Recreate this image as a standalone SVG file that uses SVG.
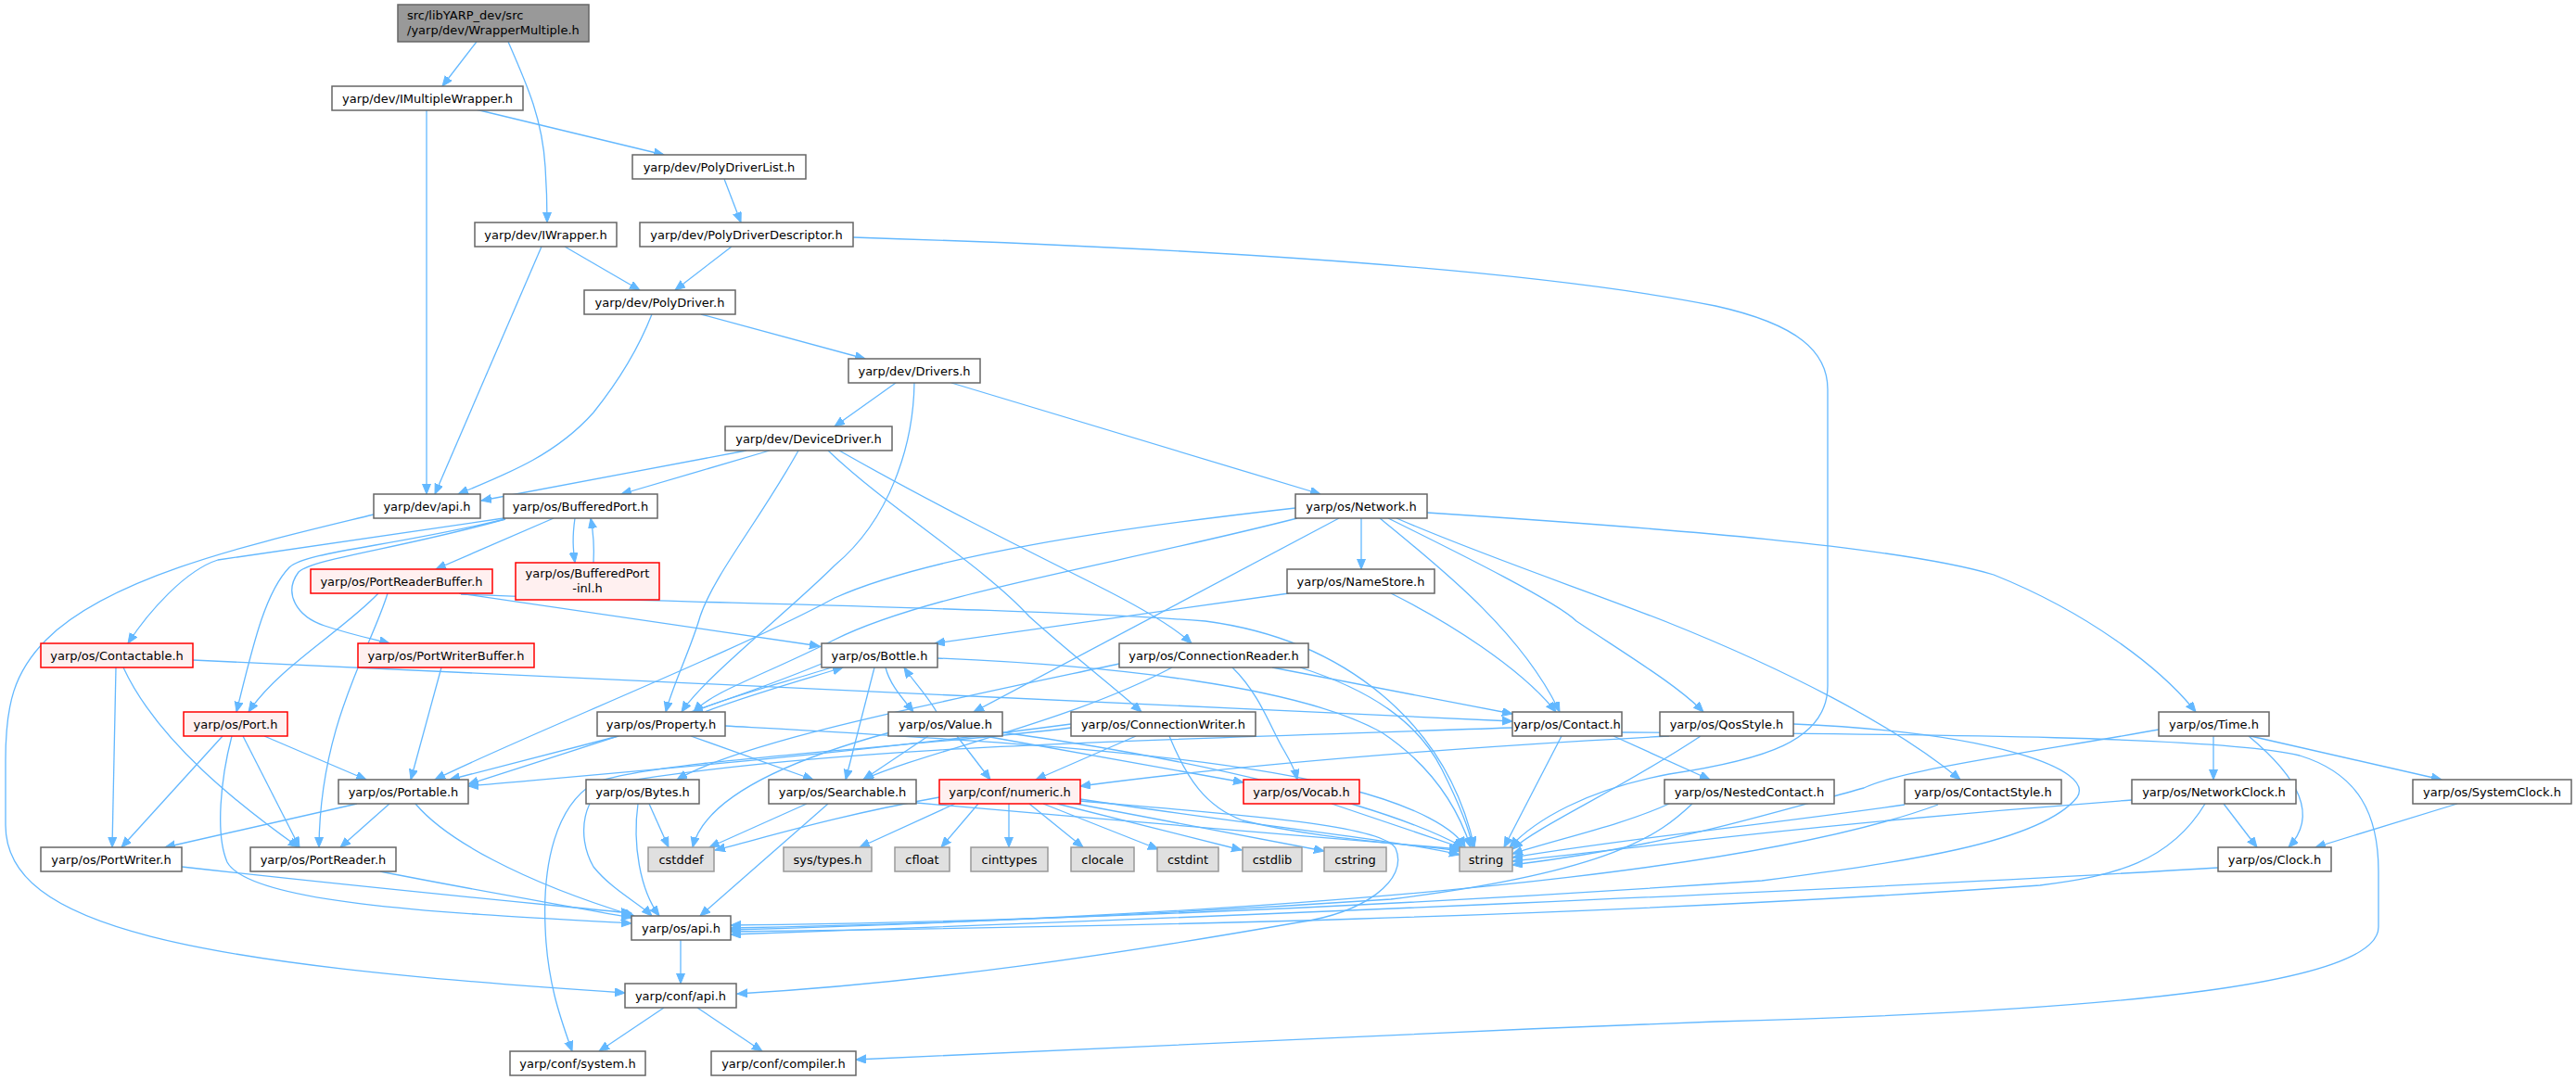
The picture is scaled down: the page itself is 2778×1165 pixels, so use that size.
<svg xmlns="http://www.w3.org/2000/svg" width="2778" height="1165" viewBox="0 0 2778 1165">
<style>
.n rect{fill:#fff;stroke:#666;stroke-width:1.5}
.root rect{fill:#999;stroke:#666;stroke-width:1.5}
.r rect{fill:#fff0f0;stroke:#f00;stroke-width:1.5}
.g rect{fill:#e0e0e0;stroke:#999;stroke-width:1.5}
text{font-family:"DejaVu Sans","Liberation Sans",sans-serif;font-size:13px;fill:#000;text-anchor:middle}
.root text{text-anchor:start}
#edges path{fill:none;stroke:#63b8ff;stroke-width:1.3;marker-end:url(#a)}
</style>
<defs>
<marker id="a" markerWidth="12" markerHeight="10" refX="11" refY="4.5" orient="auto" markerUnits="userSpaceOnUse"><path d="M0,0 L11,4.5 L0,9 z" fill="#63b8ff" stroke="#63b8ff" stroke-width="1"/></marker>
</defs>
<rect width="2778" height="1165" fill="#fff"/>
<g id="edges">
<path d="M514,45 L477,93"/>
<path d="M548,45 C570,95 585,130 588,180 C590,210 590,225 590,240"/>
<path d="M460,118 L460,533"/>
<path d="M513,118 L716,167"/>
<path d="M781,193 L799,240"/>
<path d="M609,266 L690,313"/>
<path d="M584,266 L469,533"/>
<path d="M789,266 L728,313"/>
<path d="M920,256 C1300,268 1650,290 1850,330 C1940,350 1971,380 1971,420 L1971,740 C1971,800 1900,820 1800,835 C1710,852 1655,885 1628,914"/>
<path d="M756,339 L933,387"/>
<path d="M703,339 C685,385 660,420 640,445 C600,490 550,510 494,533"/>
<path d="M966,413 L900,460"/>
<path d="M986,413 C985,480 960,560 900,610 C850,660 760,730 735,768"/>
<path d="M1026,413 L1424,533"/>
<path d="M805,486 L519,540"/>
<path d="M830,486 L670,533"/>
<path d="M861,486 C820,560 770,620 755,665 C745,700 725,740 718,768"/>
<path d="M893,486 C960,550 1060,610 1110,665 C1160,710 1200,740 1231,768"/>
<path d="M905,486 C1000,540 1100,590 1180,630 C1230,655 1265,675 1285,694"/>
<path d="M403,555 C280,585 120,620 50,690 C15,725 6,760 6,820 L6,890 C6,1000 200,1040 674,1071"/>
<path d="M597,559 L470,614"/>
<path d="M620,559 C617,580 618,592 620,607"/>
<path d="M640,607 C641,590 640,575 637,559"/>
<path d="M543,559 L235,604 C200,615 160,660 138,694"/>
<path d="M545,560 C420,590 330,595 312,612 C285,640 272,700 255,768"/>
<path d="M545,560 C430,592 340,602 322,617 C305,640 320,665 350,675 C380,685 405,690 420,694"/>
<path d="M408,640 C370,680 300,720 268,768"/>
<path d="M418,640 C400,700 345,780 344,914"/>
<path d="M495,640 L884,697"/>
<path d="M497,641 C700,650 1100,655 1300,670 C1450,690 1560,780 1590,914"/>
<path d="M476,720 L443,841"/>
<path d="M125,720 L121,914"/>
<path d="M133,720 C170,800 260,870 322,914"/>
<path d="M208,712 L1631,778"/>
<path d="M240,794 L131,914"/>
<path d="M262,794 L323,914"/>
<path d="M285,794 L395,841"/>
<path d="M250,794 C238,840 232,900 245,930 C270,975 480,985 681,996"/>
<path d="M385,867 L178,914"/>
<path d="M420,867 L367,914"/>
<path d="M448,867 C480,905 560,950 684,988"/>
<path d="M196,935 C400,958 550,972 681,985"/>
<path d="M410,940 C500,958 600,975 681,990"/>
<path d="M734,1014 L734,1061"/>
<path d="M716,1087 L646,1134"/>
<path d="M752,1087 L822,1134"/>
<path d="M667,794 L485,841"/>
<path d="M745,794 L877,841"/>
<path d="M760,768 C800,752 860,735 909,720"/>
<path d="M897,720 C850,735 790,750 747,768"/>
<path d="M782,783 C1000,795 1300,810 1450,850 C1530,870 1570,895 1580,914"/>
<path d="M955,720 C960,740 975,755 985,768"/>
<path d="M1010,768 C1000,750 985,735 975,720"/>
<path d="M943,720 L912,841"/>
<path d="M886,716 C780,760 600,815 505,846"/>
<path d="M1011,710 C1200,718 1400,740 1490,790 C1550,830 1575,880 1586,914"/>
<path d="M1001,794 L931,841"/>
<path d="M1032,794 L1068,841"/>
<path d="M1062,794 L1341,844"/>
<path d="M1081,790 C1300,820 1500,870 1578,914"/>
<path d="M960,790 C850,820 760,860 747,914"/>
<path d="M1372,720 L1631,770"/>
<path d="M1402,720 C1480,745 1530,780 1555,830 C1575,870 1585,895 1588,914"/>
<path d="M1329,720 C1360,750 1372,790 1385,810 C1392,822 1397,832 1399,841"/>
<path d="M1264,720 C1150,780 1000,810 931,841"/>
<path d="M1207,716 C1000,760 800,800 730,841"/>
<path d="M1225,794 L1117,841"/>
<path d="M1261,794 C1280,840 1300,870 1340,885 C1420,905 1520,910 1574,918"/>
<path d="M1155,781 C900,815 650,835 505,848"/>
<path d="M1155,785 C1000,805 700,820 640,845 C600,870 585,930 588,1000 C590,1060 605,1100 617,1134"/>
<path d="M1631,785 C1200,800 900,805 660,845 C630,855 620,900 640,935 C660,960 690,975 703,988"/>
<path d="M1740,794 L1844,841"/>
<path d="M1684,794 L1622,914"/>
<path d="M1749,790 C2100,792 2400,795 2480,815 C2545,835 2565,880 2565,940 L2565,1000 C2565,1060 2300,1090 1850,1102 C1500,1115 1100,1135 923,1143"/>
<path d="M1834,794 C1750,850 1660,890 1631,916"/>
<path d="M1800,794 C1500,810 1300,830 1165,848"/>
<path d="M1934,781 C2150,790 2260,830 2240,860 C2200,910 2050,930 1900,950 C1400,985 1000,996 788,998"/>
<path d="M1800,867 C1750,890 1680,905 1631,921"/>
<path d="M1825,867 C1790,900 1740,940 1500,970 C1200,990 950,998 788,1001"/>
<path d="M2054,868 C1900,890 1750,905 1631,925"/>
<path d="M2090,868 C1950,920 1600,980 788,1003"/>
<path d="M2299,863 C2000,885 1800,910 1631,929"/>
<path d="M2378,867 C2340,930 2280,945 2200,955 C1700,990 1200,1000 788,1005"/>
<path d="M2398,867 L2434,914"/>
<path d="M2392,936 C2000,960 1300,990 788,1008"/>
<path d="M2387,794 L2387,841"/>
<path d="M2427,794 L2633,841"/>
<path d="M2425,794 C2480,840 2500,880 2468,914"/>
<path d="M2650,867 L2497,914"/>
<path d="M2328,787 C2200,810 2050,830 2010,850 C1900,880 1800,912 1631,933"/>
<path d="M1397,548 C1200,570 1000,600 900,645 C800,700 550,800 469,841"/>
<path d="M1399,559 C1200,610 1000,640 900,690 C820,730 770,745 748,768"/>
<path d="M1444,559 L1050,768"/>
<path d="M1468,559 L1468,614"/>
<path d="M1488,559 C1550,610 1640,680 1682,768"/>
<path d="M1497,559 C1580,600 1680,650 1700,670 C1760,710 1810,740 1837,768"/>
<path d="M1506,559 C1600,600 1720,640 1800,672 C1920,720 2040,780 2114,841"/>
<path d="M1539,553 C1800,570 2050,590 2150,620 C2250,660 2330,720 2368,768"/>
<path d="M1390,640 L1008,694"/>
<path d="M1500,640 C1560,670 1640,720 1678,768"/>
<path d="M1013,860 C900,880 820,905 771,917"/>
<path d="M1030,867 L927,914"/>
<path d="M1055,867 L1015,914"/>
<path d="M1088,867 L1088,914"/>
<path d="M1110,867 L1168,914"/>
<path d="M1125,867 L1249,916"/>
<path d="M1140,867 L1339,917"/>
<path d="M1155,866 L1428,918"/>
<path d="M1165,862 C1350,890 1500,905 1574,922"/>
<path d="M1165,864 C1350,880 1490,890 1505,915 C1520,950 1470,985 1400,995 C1200,1030 1000,1060 795,1072"/>
<path d="M870,867 L765,914"/>
<path d="M893,867 L755,988"/>
<path d="M988,866 C1200,885 1450,905 1574,916"/>
<path d="M700,867 L721,914"/>
<path d="M688,867 C682,910 690,960 711,988"/>
<path d="M1436,867 L1578,915"/>
</g>
<g id="n_root" class="root"><rect x="429" y="5" width="206" height="40"/><text x="439" y="21">src/libYARP_dev/src</text><text x="439" y="37">/yarp/dev/WrapperMultiple.h</text></g>
<g id="n_imw" class="n"><rect x="358" y="93" width="206" height="26"/><text x="461" y="110.5">yarp/dev/IMultipleWrapper.h</text></g>
<g id="n_pdl" class="n"><rect x="682" y="167" width="187" height="26"/><text x="775.5" y="184.5">yarp/dev/PolyDriverList.h</text></g>
<g id="n_iw" class="n"><rect x="512" y="240" width="153" height="26"/><text x="588.5" y="257.5">yarp/dev/IWrapper.h</text></g>
<g id="n_pdd" class="n"><rect x="690" y="240" width="230" height="26"/><text x="805" y="257.5">yarp/dev/PolyDriverDescriptor.h</text></g>
<g id="n_pd" class="n"><rect x="630" y="313" width="163" height="26"/><text x="711.5" y="330.5">yarp/dev/PolyDriver.h</text></g>
<g id="n_drv" class="n"><rect x="915" y="387" width="142" height="26"/><text x="986" y="404.5">yarp/dev/Drivers.h</text></g>
<g id="n_dd" class="n"><rect x="782" y="460" width="180" height="26"/><text x="872" y="477.5">yarp/dev/DeviceDriver.h</text></g>
<g id="n_dapi" class="n"><rect x="403" y="533" width="115" height="26"/><text x="460.5" y="550.5">yarp/dev/api.h</text></g>
<g id="n_bp" class="n"><rect x="543" y="533" width="166" height="26"/><text x="626" y="550.5">yarp/os/BufferedPort.h</text></g>
<g id="n_net" class="n"><rect x="1397" y="533" width="142" height="26"/><text x="1468" y="550.5">yarp/os/Network.h</text></g>
<g id="n_prb" class="r"><rect x="335" y="614" width="196" height="26"/><text x="433" y="631.5">yarp/os/PortReaderBuffer.h</text></g>
<g id="n_bpi" class="r"><rect x="556" y="607" width="155" height="40"/><text x="633.5" y="623">yarp/os/BufferedPort</text><text x="633.5" y="639">-inl.h</text></g>
<g id="n_ns" class="n"><rect x="1388" y="614" width="159" height="26"/><text x="1467.5" y="631.5">yarp/os/NameStore.h</text></g>
<g id="n_ctb" class="r"><rect x="44" y="694" width="164" height="26"/><text x="126" y="711.5">yarp/os/Contactable.h</text></g>
<g id="n_pwb" class="r"><rect x="386" y="694" width="190" height="26"/><text x="481" y="711.5">yarp/os/PortWriterBuffer.h</text></g>
<g id="n_bot" class="n"><rect x="886" y="694" width="125" height="26"/><text x="948.5" y="711.5">yarp/os/Bottle.h</text></g>
<g id="n_cr" class="n"><rect x="1207" y="694" width="204" height="26"/><text x="1309" y="711.5">yarp/os/ConnectionReader.h</text></g>
<g id="n_port" class="r"><rect x="198" y="768" width="112" height="26"/><text x="254" y="785.5">yarp/os/Port.h</text></g>
<g id="n_prop" class="n"><rect x="644" y="768" width="138" height="26"/><text x="713" y="785.5">yarp/os/Property.h</text></g>
<g id="n_val" class="n"><rect x="958" y="768" width="123" height="26"/><text x="1019.5" y="785.5">yarp/os/Value.h</text></g>
<g id="n_cw" class="n"><rect x="1155" y="768" width="199" height="26"/><text x="1254.5" y="785.5">yarp/os/ConnectionWriter.h</text></g>
<g id="n_con" class="n"><rect x="1631" y="768" width="118" height="26"/><text x="1690" y="785.5">yarp/os/Contact.h</text></g>
<g id="n_qos" class="n"><rect x="1790" y="768" width="144" height="26"/><text x="1862" y="785.5">yarp/os/QosStyle.h</text></g>
<g id="n_time" class="n"><rect x="2328" y="768" width="119" height="26"/><text x="2387.5" y="785.5">yarp/os/Time.h</text></g>
<g id="n_ptbl" class="n"><rect x="365" y="841" width="140" height="26"/><text x="435" y="858.5">yarp/os/Portable.h</text></g>
<g id="n_byt" class="n"><rect x="632" y="841" width="122" height="26"/><text x="693" y="858.5">yarp/os/Bytes.h</text></g>
<g id="n_srch" class="n"><rect x="829" y="841" width="159" height="26"/><text x="908.5" y="858.5">yarp/os/Searchable.h</text></g>
<g id="n_num" class="r"><rect x="1013" y="841" width="152" height="26"/><text x="1089" y="858.5">yarp/conf/numeric.h</text></g>
<g id="n_voc" class="r"><rect x="1341" y="841" width="125" height="26"/><text x="1403.5" y="858.5">yarp/os/Vocab.h</text></g>
<g id="n_nc" class="n"><rect x="1795" y="841" width="183" height="26"/><text x="1886.5" y="858.5">yarp/os/NestedContact.h</text></g>
<g id="n_cs" class="n"><rect x="2054" y="841" width="169" height="26"/><text x="2138.5" y="858.5">yarp/os/ContactStyle.h</text></g>
<g id="n_ncl" class="n"><rect x="2299" y="841" width="177" height="26"/><text x="2387.5" y="858.5">yarp/os/NetworkClock.h</text></g>
<g id="n_scl" class="n"><rect x="2602" y="841" width="171" height="26"/><text x="2687.5" y="858.5">yarp/os/SystemClock.h</text></g>
<g id="n_pw" class="n"><rect x="44" y="914" width="152" height="26"/><text x="120" y="931.5">yarp/os/PortWriter.h</text></g>
<g id="n_pr" class="n"><rect x="270" y="914" width="157" height="26"/><text x="348.5" y="931.5">yarp/os/PortReader.h</text></g>
<g id="n_cstddef" class="g"><rect x="699" y="914" width="71" height="26"/><text x="734.5" y="931.5">cstddef</text></g>
<g id="n_sys" class="g"><rect x="845" y="914" width="95" height="26"/><text x="892.5" y="931.5">sys/types.h</text></g>
<g id="n_cfloat" class="g"><rect x="965" y="914" width="59" height="26"/><text x="994.5" y="931.5">cfloat</text></g>
<g id="n_cint" class="g"><rect x="1047" y="914" width="83" height="26"/><text x="1088.5" y="931.5">cinttypes</text></g>
<g id="n_cloc" class="g"><rect x="1155" y="914" width="68" height="26"/><text x="1189" y="931.5">clocale</text></g>
<g id="n_cstdint" class="g"><rect x="1248" y="914" width="66" height="26"/><text x="1281" y="931.5">cstdint</text></g>
<g id="n_cstdlib" class="g"><rect x="1340" y="914" width="64" height="26"/><text x="1372" y="931.5">cstdlib</text></g>
<g id="n_cstring" class="g"><rect x="1428" y="914" width="67" height="26"/><text x="1461.5" y="931.5">cstring</text></g>
<g id="n_str" class="g"><rect x="1574" y="914" width="57" height="26"/><text x="1602.5" y="931.5">string</text></g>
<g id="n_clk" class="n"><rect x="2392" y="914" width="122" height="26"/><text x="2453" y="931.5">yarp/os/Clock.h</text></g>
<g id="n_osapi" class="n"><rect x="681" y="988" width="107" height="26"/><text x="734.5" y="1005.5">yarp/os/api.h</text></g>
<g id="n_capi" class="n"><rect x="674" y="1061" width="120" height="26"/><text x="734" y="1078.5">yarp/conf/api.h</text></g>
<g id="n_csys" class="n"><rect x="550" y="1134" width="146" height="26"/><text x="623" y="1151.5">yarp/conf/system.h</text></g>
<g id="n_ccomp" class="n"><rect x="767" y="1134" width="156" height="26"/><text x="845" y="1151.5">yarp/conf/compiler.h</text></g>
</svg>
